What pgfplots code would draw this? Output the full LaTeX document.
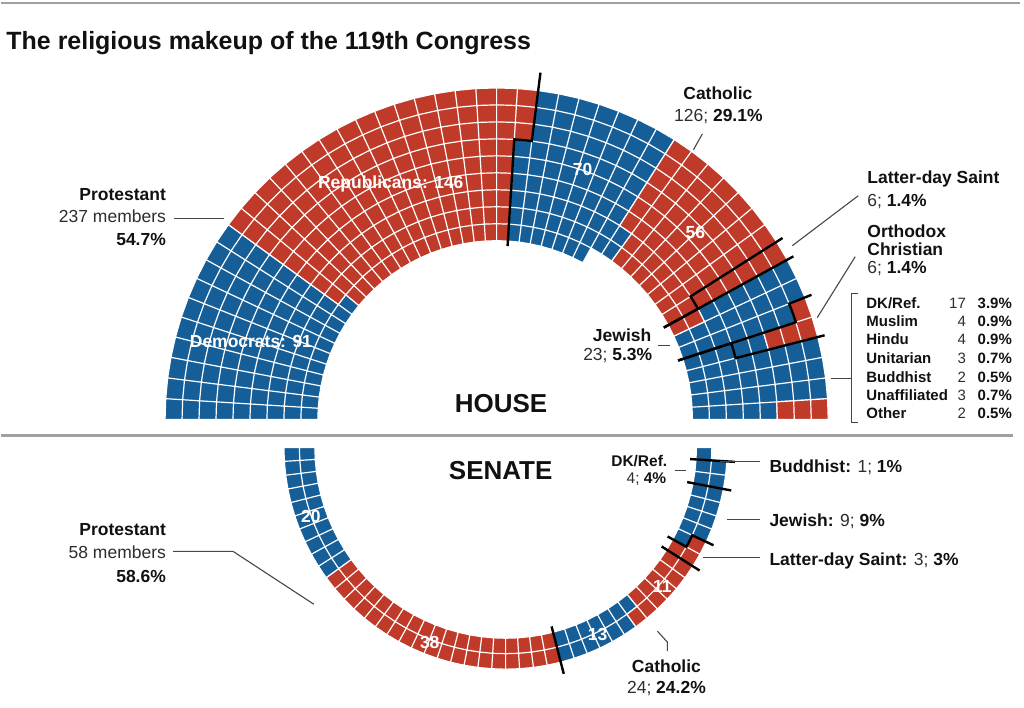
\documentclass[border=0pt]{standalone}
\usepackage{pgfplots}
\usepackage{pgfplotstable}
\pgfplotsset{compat=1.18}
\usepackage{fontspec}
\setmainfont{Liberation Sans}

\definecolor{dem}{RGB}{22,94,151}
\definecolor{rep}{RGB}{192,58,42}
\definecolor{ink}{RGB}{17,17,17}
\definecolor{soft}{RGB}{45,45,45}
\definecolor{rulegray}{RGB}{160,160,160}
\definecolor{leadgray}{RGB}{70,70,70}

% seats by religion and party, in the order they fill the grid (column by column);
% "line" = outer overhang of the black divider drawn after the row (0 = none)
\pgfplotstableread{
religion party seats line
Protestant D 91 0
Protestant R 146 18
Catholic D 70 0
Catholic R 56 7
LDS R 6 7
Jewish R 2 0
Jewish D 21 7
Orthodox R 4 0
Orthodox D 2 7
DKRef D 17 0
Muslim D 4 0
Hindu D 4 0
Unitarian D 3 0
Buddhist D 2 0
Unaffiliated D 2 0
Unaffiliated R 1 0
Other R 2 0
}\housedata

\pgfplotstableread{
religion party seats line
Protestant D 20 0
Protestant R 38 12
Catholic D 13 0
Catholic R 11 8
LDS R 3 8
Jewish D 9 8
DKRef D 4 8
Buddhist D 1 0
}\senatedata

\pgfplotsset{
  rccellD/.style={fill=dem, draw=white, line width=1.2pt, unbounded coords=jump, mark=none, forget plot},
  rccellR/.style={fill=rep, draw=white, line width=1.2pt, unbounded coords=jump, mark=none, forget plot},
  rcline/.style={black, line width=2.4pt, line join=miter, line cap=butt, mark=none, forget plot},
}
\newcommand\fs[1]{\fontsize{#1}{#1}\selectfont}

\ExplSyntaxOn
\int_new:N \l_rc_R_int
\int_new:N \l_rc_C_int
\int_new:N \l_rc_F_int
\int_new:N \l_rc_k_int
\int_new:N \l_rc_p_int
\int_new:N \l_rc_m_int
\int_new:N \l_rc_rz_int
\int_new:N \l_rc_ring_int
\int_new:N \l_rc_nseg_int
\int_new:N \l_rc_total_int
\int_new:N \l_rc_prev_int
\bool_new:N \l_rc_outer_bool
\clist_new:N \l_rc_outer_clist
\seq_new:N \l_rc_brk_seq
\tl_new:N \l_rc_D_tl
\tl_new:N \l_rc_R_tl
\tl_new:N \l_rc_line_tl
\tl_new:N \l_rc_col_tl
\tl_new:N \l_rc_step_tl
\tl_new:N \l_rc_a_tl
\tl_new:N \l_rc_b_tl
\tl_new:N \l_rc_kk_tl
\tl_new:N \l_rc_cx_tl
\tl_new:N \l_rc_cy_tl
\tl_new:N \l_rc_rin_tl
\tl_new:N \l_rc_t_tl
\tl_new:N \l_rc_dir_tl
\tl_new:N \l_rc_ein_tl

\cs_new:Npn \rc_ang:n #1 { ( 180 + ( \l_rc_dir_tl ) * ( #1 ) * 180 / ( \int_use:N \l_rc_C_int ) ) }
\cs_new:Npn \rc_pt:nn #1#2
  {
    ( \fp_eval:n { round( \l_rc_cx_tl + ( #1 ) * cosd( #2 ) , 2 ) } ,
      \fp_eval:n { round( \l_rc_cy_tl - ( #1 ) * sind( #2 ) , 2 ) } )
  }

% seat index -> column k (1-based), position p in column, lowest ring rz, ring
\cs_new_protected:Npn \rc_locate:n #1
  {
    \int_compare:nNnTF {#1} < { \l_rc_R_int * \l_rc_F_int }
      {
        \int_set:Nn \l_rc_k_int { \int_div_truncate:nn {#1} { \l_rc_R_int } + 1 }
        \int_set:Nn \l_rc_p_int { \int_mod:nn {#1} { \l_rc_R_int } }
        \int_set:Nn \l_rc_rz_int { 0 }
      }
      {
        \int_set:Nn \l_rc_m_int { #1 - \l_rc_R_int * \l_rc_F_int }
        \int_set:Nn \l_rc_k_int { \l_rc_F_int + 1 + \int_div_truncate:nn { \l_rc_m_int } { \l_rc_R_int - 1 } }
        \int_set:Nn \l_rc_p_int { \int_mod:nn { \l_rc_m_int } { \l_rc_R_int - 1 } }
        \int_set:Nn \l_rc_rz_int { 1 }
      }
    \tl_set:Nx \l_rc_kk_tl { \int_use:N \l_rc_k_int }
    \clist_if_in:NVTF \l_rc_outer_clist \l_rc_kk_tl
      { \bool_set_true:N \l_rc_outer_bool }
      { \bool_set_false:N \l_rc_outer_bool }
    \bool_if:NTF \l_rc_outer_bool
      { \int_set:Nn \l_rc_ring_int { \l_rc_R_int - 1 - \l_rc_p_int } }
      { \int_set:Nn \l_rc_ring_int { \l_rc_rz_int + \l_rc_p_int } }
  }

\cs_new_protected:Npn \rc_cell:n #1
  {
    \rc_locate:n {#1}
    \tl_put_right:cx { l_rc_ \l_rc_col_tl _tl }
      {
        \rc_pt:nn { \l_rc_rin_tl + \int_use:N \l_rc_ring_int * \l_rc_t_tl } { \rc_ang:n { \int_use:N \l_rc_k_int - 1 } } ~
        \rc_pt:nn { \l_rc_rin_tl + ( \int_use:N \l_rc_ring_int + 1 ) * \l_rc_t_tl } { \rc_ang:n { \int_use:N \l_rc_k_int - 1 } } ~
        \rc_pt:nn { \l_rc_rin_tl + ( \int_use:N \l_rc_ring_int + 1 ) * \l_rc_t_tl } { \rc_ang:n { \int_use:N \l_rc_k_int } } ~
        \rc_pt:nn { \l_rc_rin_tl + \int_use:N \l_rc_ring_int * \l_rc_t_tl } { \rc_ang:n { \int_use:N \l_rc_k_int } } ~
        \rc_pt:nn { \l_rc_rin_tl + \int_use:N \l_rc_ring_int * \l_rc_t_tl } { \rc_ang:n { \int_use:N \l_rc_k_int - 1 } } ~
        (nan,nan) ~
      }
  }

\cs_new_protected:Npn \rc_line:nn #1#2
  {
    \rc_locate:n {#1}
    \tl_clear:N \l_rc_line_tl
    \int_compare:nNnTF { \l_rc_p_int } = { 0 }
      {
        \int_compare:nNnTF { \l_rc_k_int - 1 } > { \l_rc_F_int }
          { \int_set:Nn \l_rc_rz_int { 1 } } { \int_set:Nn \l_rc_rz_int { 0 } }
        \tl_set:Nx \l_rc_line_tl
          {
            \rc_pt:nn { \l_rc_rin_tl + \int_use:N \l_rc_rz_int * \l_rc_t_tl - \l_rc_ein_tl } { \rc_ang:n { \int_use:N \l_rc_k_int - 1 } } ~
            \rc_pt:nn { \l_rc_rin_tl + \int_use:N \l_rc_R_int * \l_rc_t_tl + #2 } { \rc_ang:n { \int_use:N \l_rc_k_int - 1 } } ~
          }
      }
      {
        \bool_if:NTF \l_rc_outer_bool
          {
            \tl_set:Nx \l_rc_step_tl { \l_rc_rin_tl + ( \int_use:N \l_rc_R_int - \int_use:N \l_rc_p_int ) * \l_rc_t_tl }
            \tl_set:Nx \l_rc_a_tl { \int_use:N \l_rc_k_int - 1 }
            \tl_set:Nx \l_rc_b_tl { \int_use:N \l_rc_k_int }
          }
          {
            \tl_set:Nx \l_rc_step_tl { \l_rc_rin_tl + ( \int_use:N \l_rc_rz_int + \int_use:N \l_rc_p_int ) * \l_rc_t_tl }
            \tl_set:Nx \l_rc_a_tl { \int_use:N \l_rc_k_int }
            \tl_set:Nx \l_rc_b_tl { \int_use:N \l_rc_k_int - 1 }
          }
        \tl_set:Nx \l_rc_line_tl
          {
            \rc_pt:nn { \l_rc_rin_tl + \int_use:N \l_rc_rz_int * \l_rc_t_tl - \l_rc_ein_tl } { \rc_ang:n { \l_rc_a_tl } } ~
            \rc_pt:nn { \l_rc_step_tl } { \rc_ang:n { \l_rc_a_tl } } ~
            \rc_pt:nn { \l_rc_step_tl } { \rc_ang:n { ( \l_rc_a_tl + \l_rc_b_tl ) / 2 } } ~
            \rc_pt:nn { \l_rc_step_tl } { \rc_ang:n { \l_rc_b_tl } } ~
            \rc_pt:nn { \l_rc_rin_tl + \int_use:N \l_rc_R_int * \l_rc_t_tl + #2 } { \rc_ang:n { \l_rc_b_tl } } ~
          }
      }
    \use:x { \exp_not:N \addplot [rcline] ~ coordinates ~ { \exp_not:V \l_rc_line_tl } ; }
  }

\cs_new_protected:Npn \rc_draw:N #1
  {
    \tl_clear:N \l_rc_D_tl
    \tl_clear:N \l_rc_R_tl
    \seq_clear:N \l_rc_brk_seq
    \pgfplotstablegetrowsof {#1}
    \int_set:Nn \l_rc_nseg_int { \pgfplotsretval }
    \int_zero:N \l_rc_total_int
    \int_step_inline:nnn {0} { \l_rc_nseg_int - 1 }
      {
        \int_set_eq:NN \l_rc_prev_int \l_rc_total_int
        \pgfplotstablegetelem {##1} {seats} \of #1
        \int_add:Nn \l_rc_total_int { \pgfplotsretval }
        \pgfplotstablegetelem {##1} {party} \of #1
        \tl_set:Nx \l_rc_col_tl { \pgfplotsretval }
        \int_step_inline:nnn { \l_rc_prev_int } { \l_rc_total_int - 1 }
          { \rc_cell:n {####1} }
        \pgfplotstablegetelem {##1} {line} \of #1
        \fp_compare:nNnT { \pgfplotsretval } > { 0 }
          { \seq_put_right:Nx \l_rc_brk_seq { { \int_use:N \l_rc_total_int } { \pgfplotsretval } } }
      }
    \use:x
      {
        \exp_not:N \addplot [rccellD] ~ coordinates ~ { \exp_not:V \l_rc_D_tl } ;
        \exp_not:N \addplot [rccellR] ~ coordinates ~ { \exp_not:V \l_rc_R_tl } ;
      }
    \seq_map_inline:Nn \l_rc_brk_seq { \rc_line:nn ##1 }
  }

% #1 cx, #2 cy, #3 inner radius, #4 ring width, #5 direction, #6 inner overhang,
% #7 rings, #8 columns, #9 columns holding a seat in every ring
\NewDocumentCommand \rcgeom { mmmmmmmmm }
  {
    \tl_set:Nn \l_rc_cx_tl {#1}
    \tl_set:Nn \l_rc_cy_tl {#2}
    \tl_set:Nn \l_rc_rin_tl {#3}
    \tl_set:Nn \l_rc_t_tl {#4}
    \tl_set:Nn \l_rc_dir_tl {#5}
    \tl_set:Nn \l_rc_ein_tl {#6}
    \int_set:Nn \l_rc_R_int {#7}
    \int_set:Nn \l_rc_C_int {#8}
    \int_set:Nn \l_rc_F_int {#9}
  }
% columns filled from the outer ring inward (others fill from the inner ring)
\NewDocumentCommand \rcouter { m } { \clist_set:Nn \l_rc_outer_clist {#1} }
\NewDocumentCommand \rcdraw { m } { \rc_draw:N #1 }
\ExplSyntaxOff

\newcommand\legrow[4]{%
  \node[anchor=base west, inner sep=0, text=ink] at (866,#4) {\fs{15}\bfseries #1};
  \node[anchor=base east, inner sep=0, text=soft] at (966,#4) {\fs{15}#2};
  \node[anchor=base east, inner sep=0, text=ink] at (1012,#4) {\fs{15}\bfseries #3\%};}

\begin{document}
\begin{tikzpicture}
\begin{axis}[x=1pt, y=1pt, y dir=reverse, xmin=0, xmax=1024, ymin=0, ymax=708,
  hide axis, clip=false, scale only axis]
\addplot[draw=none, forget plot] coordinates {(0,0) (1024,708)};

% ---------------- HOUSE: 9 rings x 50 columns ----------------
\rcgeom{496}{420}{179}{17}{-1}{5}{9}{50}{33}
\rcouter{27,46}
\rcdraw{\housedata}

% ---------------- SENATE: 2 rings x 50 columns ----------------
\rcgeom{505}{448}{191}{15.5}{1}{6}{2}{50}{50}
\rcouter{43}
\rcdraw{\senatedata}

% rules
\draw[rulegray, line width=2pt] (0,3) -- (1020,3);
\draw[rulegray, line width=2.5pt] (0,436) -- (1013,436);

% title
\node[anchor=base west, inner sep=0, text=ink] at (5,50) {\fs{25}\bfseries The religious makeup of the 119th Congress};

% House labels
\node[anchor=base east, inner sep=0, text=ink] at (165,201) {\fs{17.5}\bfseries Protestant};
\node[anchor=base east, inner sep=0, text=soft] at (165,223) {\fs{17.5}237 members};
\node[anchor=base east, inner sep=0, text=ink] at (165,246) {\fs{17.5}\bfseries 54.7\%};
\draw[leadgray, line width=1.1pt] (173,219) -- (223,219);

\node[anchor=base, inner sep=0, text=white] at (390,189) {\fs{17.5}\bfseries Republicans: 146};
\node[anchor=base, inner sep=0, text=white] at (250,348) {\fs{17.5}\bfseries Democrats: 91};
\node[anchor=base, inner sep=0, text=white] at (582,176) {\fs{17.5}\bfseries 70};
\node[anchor=base, inner sep=0, text=white] at (695,239) {\fs{17.5}\bfseries 56};

\node[anchor=base, inner sep=0, text=ink] at (717.5,99.5) {\fs{17.5}\bfseries Catholic};
\node[anchor=base, inner sep=0, text=soft] at (718,122) {\fs{17.5}126; \textcolor{ink}{\bfseries 29.1\%}};
\draw[leadgray, line width=1.1pt] (702,134) -- (693,150);

\node[anchor=base west, inner sep=0, text=ink] at (867,184) {\fs{17.5}\bfseries Latter-day Saint};
\node[anchor=base west, inner sep=0, text=soft] at (867,207) {\fs{17.5}6; \textcolor{ink}{\bfseries 1.4\%}};
\draw[leadgray, line width=1.1pt] (858,196) -- (792,246);

\node[anchor=base west, inner sep=0, text=ink] at (867,238) {\fs{17.5}\bfseries Orthodox};
\node[anchor=base west, inner sep=0, text=ink] at (867,256) {\fs{17.5}\bfseries Christian};
\node[anchor=base west, inner sep=0, text=soft] at (867,274) {\fs{17.5}6; \textcolor{ink}{\bfseries 1.4\%}};
\draw[leadgray, line width=1.1pt] (855,257) -- (817,318);

\node[anchor=base east, inner sep=0, text=ink] at (651,342) {\fs{17.5}\bfseries Jewish};
\node[anchor=base east, inner sep=0, text=soft] at (652,361) {\fs{17.5}23; \textcolor{ink}{\bfseries 5.3\%}};
\draw[leadgray, line width=1.1pt] (658,346) -- (670,346);

\node[anchor=base, inner sep=0, text=ink] at (500.5,413) {\fs{26}\bfseries HOUSE};

% small-group list
\draw[leadgray, line width=1.1pt] (858,294) -- (851,294) -- (851,423) -- (858,423);
\draw[leadgray, line width=1.1pt] (831,379) -- (851,379);
\legrow{DK/Ref.}{17}{3.9}{308.6}
\legrow{Muslim}{4}{0.9}{327}
\legrow{Hindu}{4}{0.9}{345.3}
\legrow{Unitarian}{3}{0.7}{364.3}
\legrow{Buddhist}{2}{0.5}{382.6}
\legrow{Unaffiliated}{3}{0.7}{401}
\legrow{Other}{2}{0.5}{419.3}

% Senate labels
\node[anchor=base, inner sep=0, text=ink] at (500,480) {\fs{26}\bfseries SENATE};

\node[anchor=base east, inner sep=0, text=ink] at (165,536) {\fs{17.5}\bfseries Protestant};
\node[anchor=base east, inner sep=0, text=soft] at (165,559) {\fs{17.5}58 members};
\node[anchor=base east, inner sep=0, text=ink] at (165,583) {\fs{17.5}\bfseries 58.6\%};
\draw[leadgray, line width=1.1pt] (172,552) -- (232,552) -- (313,605);

\node[anchor=base, inner sep=0, text=white] at (310,523) {\fs{17.5}\bfseries 20};
\node[anchor=base, inner sep=0, text=white] at (429,649) {\fs{17.5}\bfseries 38};
\node[anchor=base, inner sep=0, text=white] at (597,641) {\fs{17.5}\bfseries 13};
\node[anchor=base, inner sep=0, text=white] at (662,593) {\fs{17.5}\bfseries 11};

\node[anchor=base, inner sep=0, text=ink] at (666,673) {\fs{17.5}\bfseries Catholic};
\node[anchor=base, inner sep=0, text=soft] at (666,694) {\fs{17.5}24; \textcolor{ink}{\bfseries 24.2\%}};
\draw[leadgray, line width=1.1pt] (667,652) -- (667,643) -- (657,632);

\node[anchor=base east, inner sep=0, text=ink] at (667,467) {\fs{15.5}\bfseries DK/Ref.};
\node[anchor=base east, inner sep=0, text=soft] at (666,484) {\fs{15.5}4; \textcolor{ink}{\bfseries 4\%}};
\draw[leadgray, line width=1.1pt] (675,471) -- (686,471);

\node[anchor=base west, inner sep=0, text=ink] at (769,473) {\fs{17.5}\bfseries Buddhist: \mdseries\textcolor{soft}{1;} \bfseries 1\%};
\draw[leadgray, line width=1.1pt] (720,462) -- (760,462);
\node[anchor=base west, inner sep=0, text=ink] at (769,527) {\fs{17.5}\bfseries Jewish: \mdseries\textcolor{soft}{9;} \bfseries 9\%};
\draw[leadgray, line width=1.1pt] (727,520) -- (760,520);
\node[anchor=base west, inner sep=0, text=ink] at (769,566) {\fs{17.5}\bfseries Latter-day Saint: \mdseries\textcolor{soft}{3;} \bfseries 3\%};
\draw[leadgray, line width=1.1pt] (703,558) -- (760,558);
\end{axis}
\end{tikzpicture}
\end{document}
